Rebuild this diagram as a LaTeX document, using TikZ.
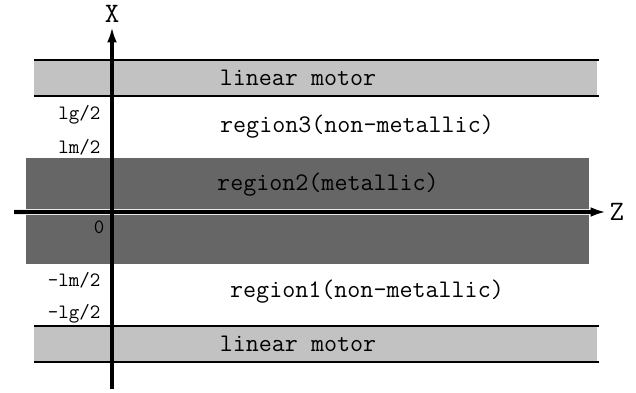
\documentclass[tikz,border=0pt]{standalone}
\usetikzlibrary{arrows.meta,positioning}
\definecolor{motorgray}{HTML}{C2C2C2}
\definecolor{metalgray}{HTML}{666666}
\tikzset{
  lbl/.style={font=\ttfamily\fontsize{18}{20}\selectfont},
  tick/.style={font=\ttfamily\fontsize{14.5}{16}\selectfont, anchor=east, inner sep=1pt},
  axlbl/.style={font=\ttfamily\fontsize{20}{22}\selectfont, inner sep=1pt},
  axis/.style={line width=3pt, ->},
  edge/.style={line width=1.3pt}
}
\begin{document}
\begin{tikzpicture}[>={Latex[length=11pt,width=7pt]}]
	\useasboundingbox (0,0) rectangle (15.9,9.8);
	% bands
	\fill[motorgray] (0.85,7.4) rectangle (14.925,8.3);
	\draw[edge] (0.85,8.3) -- (14.975,8.3);
	\draw[edge] (0.85,7.4) -- (14.975,7.4);
	\fill[metalgray] (0.65,3.2) rectangle (14.725,5.85);
	\fill[motorgray] (0.85,0.75) rectangle (14.925,1.65);
	\draw[edge] (0.85,1.65) -- (14.975,1.65);
	\draw[edge] (0.85,0.75) -- (14.975,0.75);
	% axes
	\coordinate (zs) at (0.35,4.5);
	\coordinate (ze) at (15.15,4.5);
	\coordinate (xs) at (2.8,0.075);
	\coordinate (xe) at (2.8,9.125);
	\draw[white!85!metalgray, line width=4.8pt] (zs) -- ([xshift=-0.3cm]ze);
	\draw[axis] (zs) -- (ze);
	\draw[axis] (xs) -- (xe);
	\node[axlbl, anchor=west] (zl) at (15.2,4.5) {Z};
	\node[axlbl] (xl) at (2.8,9.45) {X};
	% texts
	\node[lbl] (mtop) at (7.45,7.85) {linear motor};
	\node[lbl] (reg3) at (8.925,6.625) {region3(non-metallic)};
	\node[lbl] (reg2) at (8.2,5.175) {region2(metallic)};
	\node[lbl] (reg1) at (9.175,2.5) {region1(non-metallic)};
	\node[lbl] (mbot) at (7.45,1.2) {linear motor};
	\node[tick] (lgp) at (2.55,6.925) {lg/2};
	\node[tick] (lmp) at (2.55,6.125) {lm/2};
	\node[tick] (org) at (2.65,4.125) {0};
	\node[tick] (lmn) at (2.55,2.8) {-lm/2};
	\node[tick] (lgn) at (2.55,1.95) {-lg/2};
\end{tikzpicture}
\end{document}
